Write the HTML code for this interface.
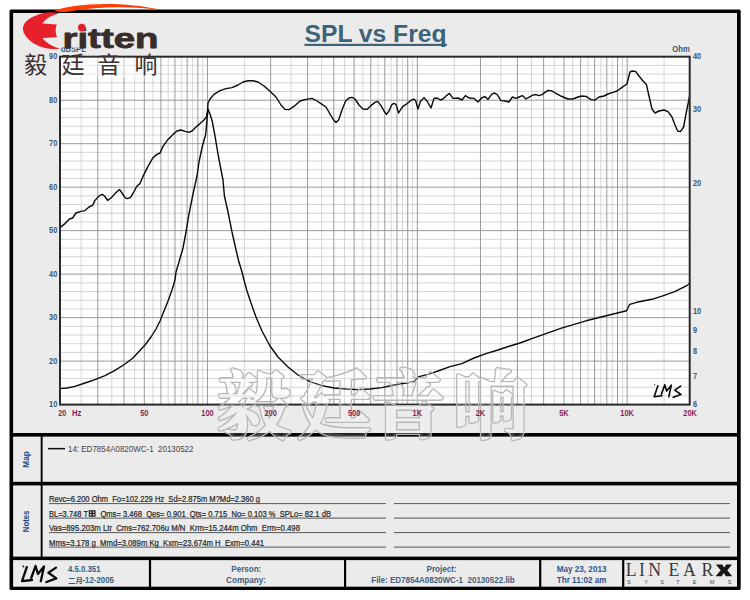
<!DOCTYPE html>
<html><head><meta charset="utf-8"><title>SPL vs Freq</title>
<style>html,body{margin:0;padding:0;background:#fff;}svg{display:block}</style></head>
<body><svg width="750" height="600" viewBox="0 0 750 600">
<rect x="0" y="0" width="750" height="600" fill="#fff"/>
<rect x="9.5" y="9.4" width="731.2" height="580.7" rx="1.5" fill="#000"/>
<rect x="13.1" y="13" width="723.9" height="573.7" fill="#ebebeb"/>
<rect x="60.3" y="56.7" width="629.4000000000001" height="347.90000000000003" fill="#fff"/>
<path d="M60.3 395.90H689.7M60.3 387.21H689.7M60.3 378.51H689.7M60.3 369.81H689.7M60.3 352.42H689.7M60.3 343.72H689.7M60.3 335.02H689.7M60.3 326.32H689.7M60.3 308.93H689.7M60.3 300.23H689.7M60.3 291.53H689.7M60.3 282.84H689.7M60.3 265.44H689.7M60.3 256.74H689.7M60.3 248.05H689.7M60.3 239.35H689.7M60.3 221.95H689.7M60.3 213.25H689.7M60.3 204.56H689.7M60.3 195.86H689.7M60.3 178.47H689.7M60.3 169.77H689.7M60.3 161.07H689.7M60.3 152.37H689.7M60.3 134.98H689.7M60.3 126.28H689.7M60.3 117.58H689.7M60.3 108.88H689.7M60.3 91.49H689.7M60.3 82.79H689.7M60.3 74.10H689.7M60.3 65.40H689.7" stroke="#d0d0d0" stroke-width="0.9" fill="none"/>
<path d="M81.13 56.7V404.6M111.80 56.7V404.6M134.70 56.7V404.6M152.99 56.7V404.6M168.21 56.7V404.6M181.25 56.7V404.6M192.66 56.7V404.6M202.79 56.7V404.6M244.42 56.7V404.6M290.97 56.7V404.6M321.63 56.7V404.6M344.53 56.7V404.6M362.82 56.7V404.6M378.04 56.7V404.6M391.08 56.7V404.6M402.49 56.7V404.6M412.63 56.7V404.6M454.25 56.7V404.6M500.80 56.7V404.6M531.46 56.7V404.6M554.37 56.7V404.6M572.65 56.7V404.6M587.88 56.7V404.6M600.92 56.7V404.6M612.32 56.7V404.6M622.46 56.7V404.6M664.08 56.7V404.6" stroke="#d0d0d0" stroke-width="0.9" fill="none"/>
<path d="M60.3 361.11H689.7M60.3 317.62H689.7M60.3 274.14H689.7M60.3 230.65H689.7M60.3 187.16H689.7M60.3 143.68H689.7M60.3 100.19H689.7M97.75 56.7V404.6M123.97 56.7V404.6M144.30 56.7V404.6M160.92 56.7V404.6M174.96 56.7V404.6M187.13 56.7V404.6M197.87 56.7V404.6M207.47 56.7V404.6M270.63 56.7V404.6M307.58 56.7V404.6M333.80 56.7V404.6M354.13 56.7V404.6M370.75 56.7V404.6M384.80 56.7V404.6M396.97 56.7V404.6M407.70 56.7V404.6M417.30 56.7V404.6M480.47 56.7V404.6M517.42 56.7V404.6M543.63 56.7V404.6M563.97 56.7V404.6M580.58 56.7V404.6M594.63 56.7V404.6M606.80 56.7V404.6M617.53 56.7V404.6M627.13 56.7V404.6" stroke="#9a9a9a" stroke-width="1" fill="none"/>
<path d="M60.0 388.6 L67.0 388.0 L75.0 386.4 L85.0 383.0 L95.0 379.6 L105.0 375.6 L115.0 370.4 L125.0 364.0 L133.0 358.0 L139.0 351.6 L145.0 345.0 L151.0 337.0 L156.0 329.0 L160.0 321.0 L164.0 311.0 L168.0 301.0 L172.0 290.0 L175.0 280.0 L176.0 272.0 L179.0 262.0 L183.0 248.0 L186.0 232.0 L189.0 214.0 L193.0 194.0 L197.0 176.0 L199.0 162.0 L202.4 146.0 L205.6 135.0 L207.0 120.0 L208.0 109.0 L210.0 114.0 L212.4 122.0 L215.0 136.0 L218.0 154.0 L221.0 170.0 L223.0 180.0 L224.4 196.0 L228.0 212.0 L232.0 232.0 L235.6 248.0 L238.4 260.0 L242.0 272.0 L244.0 280.0 L247.0 291.0 L251.0 303.0 L256.0 317.0 L262.0 331.0 L270.0 346.0 L278.0 357.0 L288.0 367.0 L298.0 375.0 L310.0 381.6 L322.0 385.6 L334.0 388.0 L346.0 389.0 L358.0 389.6 L370.0 389.0 L382.0 387.6 L394.0 385.0 L406.0 383.0 L414.0 381.6 L416.4 379.0 L419.0 376.6 L428.0 374.4 L438.0 371.0 L450.0 366.6 L462.0 363.6 L474.0 358.0 L486.0 353.6 L498.0 350.0 L510.0 346.0 L520.0 343.0 L535.3 337.3 L560.7 328.4 L586.0 320.8 L611.3 314.5 L626.5 310.7 L629.8 304.3 L636.7 302.3 L651.9 299.3 L662.0 296.2 L674.7 291.7 L687.3 285.3 L689.9 283.3" stroke="#0a0a0a" stroke-width="1.4" fill="none" stroke-linejoin="round" stroke-linecap="round"/>
<path d="M60.0 227.6 L65.0 223.6 L69.4 219.0 L72.6 218.0 L76.0 213.0 L81.0 211.4 L85.0 210.6 L89.0 207.0 L92.6 205.4 L95.0 200.4 L99.0 196.0 L102.0 194.4 L104.6 196.0 L107.6 200.4 L111.0 198.0 L115.0 193.6 L119.4 189.4 L122.0 193.0 L125.0 197.6 L127.4 198.6 L130.6 197.4 L134.0 191.6 L137.0 186.0 L140.0 183.6 L143.0 176.4 L148.0 166.4 L153.0 157.6 L157.0 154.4 L160.0 153.0 L163.0 146.4 L168.0 139.4 L173.0 134.4 L177.0 131.0 L181.0 130.0 L185.0 131.4 L189.0 132.4 L192.0 131.0 L196.0 127.0 L200.0 123.6 L204.0 120.0 L206.4 117.0 L207.6 110.0 L208.0 103.0 L210.0 99.0 L214.0 94.4 L220.0 90.6 L226.0 88.6 L232.0 87.6 L238.0 85.0 L243.0 82.0 L248.0 80.8 L253.0 80.8 L258.0 82.0 L264.0 86.0 L270.0 91.3 L276.0 97.0 L281.0 105.0 L285.0 109.4 L289.0 109.6 L294.0 106.4 L300.0 101.0 L306.0 99.4 L312.0 98.4 L317.0 101.0 L322.0 104.4 L326.0 107.0 L330.0 114.0 L333.6 120.0 L336.0 122.4 L338.6 120.0 L342.0 110.0 L345.6 101.0 L349.0 98.0 L352.0 97.4 L355.0 99.0 L359.0 105.0 L363.0 109.0 L367.0 109.4 L371.0 105.6 L375.0 102.4 L377.6 101.4 L381.0 105.6 L384.0 111.0 L386.4 114.4 L389.0 111.0 L391.6 105.0 L393.6 103.4 L396.0 104.4 L398.6 113.0 L401.0 109.0 L403.0 106.4 L407.0 103.6 L411.0 100.3 L413.6 99.2 L415.6 100.5 L418.0 109.0 L420.4 101.5 L424.0 97.6 L427.0 101.0 L431.0 108.0 L434.0 98.4 L437.0 98.0 L440.4 100.0 L443.0 99.0 L446.0 96.0 L449.4 93.4 L453.0 98.4 L458.0 98.0 L462.0 100.0 L465.4 95.6 L469.0 98.0 L474.0 98.4 L478.0 102.0 L481.6 98.0 L485.0 96.4 L488.0 99.4 L491.6 94.4 L494.0 93.0 L497.0 94.4 L501.0 100.6 L505.0 101.0 L509.0 102.0 L512.4 97.0 L516.0 98.4 L519.0 97.0 L522.4 95.6 L526.0 99.0 L530.0 96.6 L533.0 95.0 L536.0 94.6 L539.0 95.6 L542.0 94.6 L545.0 92.4 L548.0 90.4 L552.0 91.0 L556.0 93.4 L560.0 95.6 L563.0 97.0 L568.0 99.0 L573.0 99.0 L578.0 97.0 L582.0 96.0 L586.0 96.4 L591.0 99.6 L595.0 100.0 L599.0 97.0 L604.0 96.0 L608.0 94.0 L613.0 92.4 L617.0 91.0 L622.0 87.4 L627.0 84.0 L628.4 78.0 L630.0 72.0 L632.0 71.0 L635.6 71.4 L639.0 76.0 L643.0 81.0 L646.4 84.4 L649.0 96.0 L652.0 109.0 L655.0 113.0 L659.0 111.0 L664.0 110.0 L668.0 111.6 L672.0 117.0 L675.0 125.0 L677.6 131.0 L680.4 131.6 L683.6 127.0 L686.0 114.0 L688.0 104.0 L689.6 96.0" stroke="#0a0a0a" stroke-width="1.4" fill="none" stroke-linejoin="round" stroke-linecap="round"/>
<rect x="60.0" y="56.7" width="629.7" height="347.90000000000003" fill="none" stroke="#2a2a2a" stroke-width="2"/>
<rect x="13" y="433" width="725" height="3.6" fill="#000"/>
<rect x="13" y="481.8" width="725" height="3.6" fill="#000"/>
<rect x="13" y="556.6" width="725" height="3.5" fill="#000"/>
<rect x="40.7" y="436" width="1.9" height="121" fill="#000"/>
<rect x="148.9" y="560" width="2.2" height="27" fill="#000"/>
<rect x="344" y="560" width="2.2" height="27" fill="#000"/>
<rect x="539.1" y="560" width="2.2" height="27" fill="#000"/>
<rect x="622.1" y="560" width="2.2" height="27" fill="#000"/>
<defs><mask id="wmm" maskUnits="userSpaceOnUse" x="200" y="360" width="340" height="95"><rect x="200" y="360" width="340" height="95" fill="#fff"/><text x="216.7 297.4 371 453.5" y="432" font-size="74" font-family="&quot;Liberation Serif&quot;, &quot;Noto Serif CJK SC&quot;, serif" font-weight="bold" fill="#000" stroke="#000" stroke-width="1.2" stroke-linejoin="round">毅廷音响</text></mask></defs>
<g fill="rgba(255,255,255,0.14)" stroke="rgba(255,255,255,0.14)" stroke-linejoin="round"><text x="216.7 297.4 371 453.5" y="432" font-size="74" font-family="&quot;Liberation Serif&quot;, &quot;Noto Serif CJK SC&quot;, serif" font-weight="bold" stroke-width="3.8">毅廷音响</text></g>
<g fill="#b8b8b8" stroke="#b8b8b8" stroke-linejoin="round" mask="url(#wmm)"><text x="216.7 297.4 371 453.5" y="432" font-size="74" font-family="&quot;Liberation Serif&quot;, &quot;Noto Serif CJK SC&quot;, serif" font-weight="bold" stroke-width="3.8">毅廷音响</text></g>
<text x="57.3" y="407.20000000000005" font-size="8.6" fill="#3b5878" font-family="Liberation Sans, sans-serif" font-weight="bold" text-anchor="end" textLength="8.2" lengthAdjust="spacingAndGlyphs" >10</text>
<text x="57.3" y="363.71250000000003" font-size="8.6" fill="#3b5878" font-family="Liberation Sans, sans-serif" font-weight="bold" text-anchor="end" textLength="8.2" lengthAdjust="spacingAndGlyphs" >20</text>
<text x="57.3" y="320.225" font-size="8.6" fill="#3b5878" font-family="Liberation Sans, sans-serif" font-weight="bold" text-anchor="end" textLength="8.2" lengthAdjust="spacingAndGlyphs" >30</text>
<text x="57.3" y="276.73750000000007" font-size="8.6" fill="#3b5878" font-family="Liberation Sans, sans-serif" font-weight="bold" text-anchor="end" textLength="8.2" lengthAdjust="spacingAndGlyphs" >40</text>
<text x="57.3" y="233.25" font-size="8.6" fill="#3b5878" font-family="Liberation Sans, sans-serif" font-weight="bold" text-anchor="end" textLength="8.2" lengthAdjust="spacingAndGlyphs" >50</text>
<text x="57.3" y="189.7625" font-size="8.6" fill="#3b5878" font-family="Liberation Sans, sans-serif" font-weight="bold" text-anchor="end" textLength="8.2" lengthAdjust="spacingAndGlyphs" >60</text>
<text x="57.3" y="146.275" font-size="8.6" fill="#3b5878" font-family="Liberation Sans, sans-serif" font-weight="bold" text-anchor="end" textLength="8.2" lengthAdjust="spacingAndGlyphs" >70</text>
<text x="57.3" y="102.7875" font-size="8.6" fill="#3b5878" font-family="Liberation Sans, sans-serif" font-weight="bold" text-anchor="end" textLength="8.2" lengthAdjust="spacingAndGlyphs" >80</text>
<text x="57.3" y="59.29999999999999" font-size="8.6" fill="#3b5878" font-family="Liberation Sans, sans-serif" font-weight="bold" text-anchor="end" textLength="8.2" lengthAdjust="spacingAndGlyphs" >90</text>
<text x="693" y="59.300000000000004" font-size="8.6" fill="#3b5878" font-family="Liberation Sans, sans-serif" font-weight="bold" textLength="8.2" lengthAdjust="spacingAndGlyphs" >40</text>
<text x="693" y="112.05606909596443" font-size="8.6" fill="#3b5878" font-family="Liberation Sans, sans-serif" font-weight="bold" textLength="8.2" lengthAdjust="spacingAndGlyphs" >30</text>
<text x="693" y="186.41157229800137" font-size="8.6" fill="#3b5878" font-family="Liberation Sans, sans-serif" font-weight="bold" textLength="8.2" lengthAdjust="spacingAndGlyphs" >20</text>
<text x="693" y="313.5231445960028" font-size="8.6" fill="#3b5878" font-family="Liberation Sans, sans-serif" font-weight="bold" textLength="8.2" lengthAdjust="spacingAndGlyphs" >10</text>
<text x="693" y="332.84449679796313" font-size="8.6" fill="#3b5878" font-family="Liberation Sans, sans-serif" font-weight="bold" textLength="4.1" lengthAdjust="spacingAndGlyphs" >9</text>
<text x="693" y="354.4439309040356" font-size="8.6" fill="#3b5878" font-family="Liberation Sans, sans-serif" font-weight="bold" textLength="4.1" lengthAdjust="spacingAndGlyphs" >8</text>
<text x="693" y="378.93134965676455" font-size="8.6" fill="#3b5878" font-family="Liberation Sans, sans-serif" font-weight="bold" textLength="4.1" lengthAdjust="spacingAndGlyphs" >7</text>
<text x="693" y="407.20000000000005" font-size="8.6" fill="#3b5878" font-family="Liberation Sans, sans-serif" font-weight="bold" textLength="4.1" lengthAdjust="spacingAndGlyphs" >6</text>
<text x="60.8" y="51.6" font-size="8.6" fill="#3b5878" font-family="Liberation Sans, sans-serif" font-weight="bold" textLength="25" lengthAdjust="spacingAndGlyphs" >dBSPL</text>
<rect x="60" y="42" width="30" height="5.4" fill="#ebebeb"/>
<text x="689.8" y="52" font-size="8.6" fill="#3b5878" font-family="Liberation Sans, sans-serif" font-weight="bold" text-anchor="end" textLength="17.5" lengthAdjust="spacingAndGlyphs" >Ohm</text>
<text x="58.3" y="415.6" font-size="8.6" fill="#8a2552" font-family="Liberation Sans, sans-serif" font-weight="bold" textLength="8" lengthAdjust="spacingAndGlyphs" >20</text>
<text x="72" y="415.6" font-size="8.6" fill="#8a2552" font-family="Liberation Sans, sans-serif" font-weight="bold" textLength="9.4" lengthAdjust="spacingAndGlyphs" >Hz</text>
<text x="144.30107848634924" y="415.6" font-size="8.6" fill="#8a2552" font-family="Liberation Sans, sans-serif" font-weight="bold" text-anchor="middle" textLength="8.2" lengthAdjust="spacingAndGlyphs" >50</text>
<text x="207.4672059098413" y="415.6" font-size="8.6" fill="#8a2552" font-family="Liberation Sans, sans-serif" font-weight="bold" text-anchor="middle" textLength="12.3" lengthAdjust="spacingAndGlyphs" >100</text>
<text x="270.6333333333333" y="415.6" font-size="8.6" fill="#8a2552" font-family="Liberation Sans, sans-serif" font-weight="bold" text-anchor="middle" textLength="12.3" lengthAdjust="spacingAndGlyphs" >200</text>
<text x="354.1344118196826" y="415.6" font-size="8.6" fill="#8a2552" font-family="Liberation Sans, sans-serif" font-weight="bold" text-anchor="middle" textLength="12.3" lengthAdjust="spacingAndGlyphs" >500</text>
<text x="417.3005392431746" y="415.6" font-size="8.6" fill="#8a2552" font-family="Liberation Sans, sans-serif" font-weight="bold" text-anchor="middle" textLength="9.5" lengthAdjust="spacingAndGlyphs" >1K</text>
<text x="480.4666666666667" y="415.6" font-size="8.6" fill="#8a2552" font-family="Liberation Sans, sans-serif" font-weight="bold" text-anchor="middle" textLength="9.5" lengthAdjust="spacingAndGlyphs" >2K</text>
<text x="563.9677451530159" y="415.6" font-size="8.6" fill="#8a2552" font-family="Liberation Sans, sans-serif" font-weight="bold" text-anchor="middle" textLength="9.5" lengthAdjust="spacingAndGlyphs" >5K</text>
<text x="627.1338725765079" y="415.6" font-size="8.6" fill="#8a2552" font-family="Liberation Sans, sans-serif" font-weight="bold" text-anchor="middle" textLength="13.6" lengthAdjust="spacingAndGlyphs" >10K</text>
<text x="690.0999999999999" y="415.6" font-size="8.6" fill="#8a2552" font-family="Liberation Sans, sans-serif" font-weight="bold" text-anchor="middle" textLength="13.6" lengthAdjust="spacingAndGlyphs" >20K</text>
<text x="375.5" y="41.6" font-size="23.5" fill="#3d6378" font-family="Liberation Sans, sans-serif" font-weight="bold" text-anchor="middle" textLength="142" lengthAdjust="spacingAndGlyphs" >SPL vs Freq</text>
<rect x="304.5" y="43.8" width="142.3" height="2.2" fill="#3d6378"/>
<text transform="translate(28.9,459.4) rotate(-90)" font-size="8.6" fill="#1d4a8a" font-family="Liberation Sans, sans-serif" font-weight="bold" text-anchor="middle" textLength="16.6" lengthAdjust="spacingAndGlyphs">Map</text>
<text transform="translate(28.9,521.4) rotate(-90)" font-size="8.6" fill="#1d4a8a" font-family="Liberation Sans, sans-serif" font-weight="bold" text-anchor="middle" textLength="21.6" lengthAdjust="spacingAndGlyphs">Notes</text>
<rect x="48" y="447.9" width="17" height="1.5" fill="#111"/>
<text x="68" y="451.8" font-size="9" fill="#4a4048" font-family="Liberation Sans, sans-serif" textLength="125.5" lengthAdjust="spacingAndGlyphs" xml:space="preserve">14: ED7854A0820WC-1  20130522</text>
<text x="49" y="502" font-size="8.5" fill="#262626" font-family="Liberation Sans, sans-serif" textLength="211" lengthAdjust="spacingAndGlyphs" xml:space="preserve" stroke="#262626" stroke-width="0.22">Revc=6.200 Ohm  Fo=102.229 Hz  Sd=2.875m M?Md=2.360 g</text>
<path d="M49 503.6H386M394 503.6H730" stroke="#555" stroke-width="1" fill="none"/>
<text x="49" y="516.5" font-size="8.5" fill="#262626" font-family="Liberation Sans, sans-serif" textLength="39" lengthAdjust="spacingAndGlyphs" xml:space="preserve" stroke="#262626" stroke-width="0.22">BL=3.748 T</text>
<path d="M88.8 510.2h6.8v6.6h-6.8zM90 511.5v1.2h1.6v-1.2zM93 511.5v1.2h1.4v-1.2zM90 514.1v1.4h1.4v-1.4zM93 514.1v1.4h1.4v-1.4z" fill="#222" fill-rule="evenodd"/>
<text x="100.4" y="516.5" font-size="8.5" fill="#262626" font-family="Liberation Sans, sans-serif" textLength="230.6" lengthAdjust="spacingAndGlyphs" xml:space="preserve" stroke="#262626" stroke-width="0.22">Qms= 3.468  Qes= 0.901  Qts= 0.715  No= 0.103 %  SPLo= 82.1 dB</text>
<path d="M49 518.1H386M394 518.1H730" stroke="#555" stroke-width="1" fill="none"/>
<text x="49" y="531" font-size="8.5" fill="#262626" font-family="Liberation Sans, sans-serif" textLength="251" lengthAdjust="spacingAndGlyphs" xml:space="preserve" stroke="#262626" stroke-width="0.22">Vas=895.203m Ltr  Cms=762.706u M/N  Krm=15.244m Ohm  Erm=0.498</text>
<path d="M49 532.6H386M394 532.6H730" stroke="#555" stroke-width="1" fill="none"/>
<text x="49" y="545.5" font-size="8.5" fill="#262626" font-family="Liberation Sans, sans-serif" textLength="215" lengthAdjust="spacingAndGlyphs" xml:space="preserve" stroke="#262626" stroke-width="0.22">Mms=3.178 g  Mmd=3.089m Kg  Kxm=23.674m H  Exm=0.441</text>
<path d="M49 547.1H386M394 547.1H730" stroke="#555" stroke-width="1" fill="none"/>
<text x="68" y="571.8" font-size="9" fill="#33607f" font-family="Liberation Sans, sans-serif" font-weight="bold" textLength="32.5" lengthAdjust="spacingAndGlyphs" >4.5.0.351</text>
<text x="82.5" y="583.2" font-size="9" fill="#33607f" font-family="Liberation Sans, sans-serif" font-weight="bold" textLength="31.5" lengthAdjust="spacingAndGlyphs" >-12-2005</text>
<text x="246.3" y="571.9" font-size="9.2" fill="#3f5f80" font-family="Liberation Sans, sans-serif" font-weight="bold" text-anchor="middle" textLength="30" lengthAdjust="spacingAndGlyphs" >Person:</text>
<text x="246" y="583.3" font-size="9.2" fill="#3f5f80" font-family="Liberation Sans, sans-serif" font-weight="bold" text-anchor="middle" textLength="40" lengthAdjust="spacingAndGlyphs" >Company:</text>
<text x="441.6" y="571.9" font-size="9.2" fill="#3f5f80" font-family="Liberation Sans, sans-serif" font-weight="bold" text-anchor="middle" textLength="30.2" lengthAdjust="spacingAndGlyphs" >Project:</text>
<text x="443" y="583.3" font-size="9.2" fill="#3f5f80" font-family="Liberation Sans, sans-serif" font-weight="bold" text-anchor="middle" textLength="143.5" lengthAdjust="spacingAndGlyphs" xml:space="preserve">File: ED7854A0820WC-1  20130522.lib</text>
<text x="581.6" y="572.2" font-size="9.2" fill="#2f5590" font-family="Liberation Sans, sans-serif" font-weight="bold" text-anchor="middle" textLength="49.7" lengthAdjust="spacingAndGlyphs" >May 23, 2013</text>
<text x="581.6" y="583.2" font-size="9.2" fill="#2f5590" font-family="Liberation Sans, sans-serif" font-weight="bold" text-anchor="middle" textLength="49.7" lengthAdjust="spacingAndGlyphs" >Thr 11:02 am</text>
<path d="M54 11 C70 3.7 120 0.2 163 10.3 C130 5.5 95 6.5 66 12 Q58 12.2 54 11Z" fill="#ff3d06"/>
<path d="M58.8 13.3 C52 12 48 12.2 44 13 C33 15.5 23 21 22.9 28.3 C23 36.5 33 46 48 48.6 C52 49.3 56 49.2 60 48.8 C52 46.5 46 42.5 42.3 38 L57 37.2 C55.2 33 55.2 28.5 56.8 24.5 L42.3 23.6 C45.5 19 51 15.5 58.8 13.3Z" fill="#e6212c"/>
<text x="62.5" y="48" font-size="28" fill="#392d2b" stroke="#392d2b" stroke-width="0.8" stroke-linejoin="round" font-family="&quot;Liberation Sans&quot;, sans-serif" font-weight="bold" textLength="96" lengthAdjust="spacingAndGlyphs">ritten</text>
<circle cx="81.8" cy="27.6" r="3.85" fill="#e6212c"/>
<rect x="61.2" y="57.8" width="99" height="20" fill="#fff" opacity="0.45"/>
<text x="24.3 61.6 97.5 134.4" y="72.8" font-size="23" fill="#3a3030" font-family="&quot;Liberation Sans&quot;, &quot;Noto Sans CJK SC&quot;, sans-serif">毅廷音响</text>
<path d="M26.8 567.2L22 581.2L32 580M31.2 578L35.6 566L38 574L44 566.4L40.8 581.2M56 567.6L48.4 572.8L56.4 578.4L46.4 582" fill="none" stroke="#0a0a0a" stroke-width="2.3" stroke-linecap="round" stroke-linejoin="round"/>
<circle cx="23.4" cy="566.4" r="0.9" fill="#0a0a0a"/>
<g transform="translate(637.00 -56.62) scale(0.78)"><path d="M26.8 567.2L22 581.2L32 580M31.2 578L35.6 566L38 574L44 566.4L40.8 581.2M56 567.6L48.4 572.8L56.4 578.4L46.4 582" fill="none" stroke="#0a0a0a" stroke-width="2.1" stroke-linecap="round" stroke-linejoin="round"/><circle cx="22.5" cy="566" r="0.9" fill="#0a0a0a"/></g>
<text x="67.9 75.5" y="582.8" font-size="7.4" fill="#33607f" font-family="&quot;Liberation Sans&quot;, &quot;Noto Sans CJK SC&quot;, sans-serif" font-weight="bold">二月</text>
<text x="631.3" y="576" font-size="17.8" fill="#3a3a3a" font-family="Liberation Serif, serif" text-anchor="middle">L</text>
<text x="642" y="576" font-size="17.8" fill="#3a3a3a" font-family="Liberation Serif, serif" text-anchor="middle">I</text>
<text x="654.6" y="576" font-size="17.8" fill="#3a3a3a" font-family="Liberation Serif, serif" text-anchor="middle">N</text>
<text x="674" y="576" font-size="17.8" fill="#3a3a3a" font-family="Liberation Serif, serif" text-anchor="middle">E</text>
<text x="689.5" y="576" font-size="17.8" fill="#3a3a3a" font-family="Liberation Serif, serif" text-anchor="middle">A</text>
<text x="707.5" y="576" font-size="17.8" fill="#3a3a3a" font-family="Liberation Serif, serif" text-anchor="middle">R</text>
<path d="M715.8 564.4h6.4l2 3 2-3h5.8l-4.7 5.8 4.9 6h-6.4l-2-3.2-2.1 3.2h-6.1l5.1-6z" fill="#151515"/>
<text x="628.9" y="583.6" font-size="5.6" fill="#3a4a66" font-family="Liberation Sans, sans-serif" text-anchor="middle">S</text>
<text x="646" y="583.6" font-size="5.6" fill="#3a4a66" font-family="Liberation Sans, sans-serif" text-anchor="middle">Y</text>
<text x="662" y="583.6" font-size="5.6" fill="#3a4a66" font-family="Liberation Sans, sans-serif" text-anchor="middle">S</text>
<text x="678" y="583.6" font-size="5.6" fill="#3a4a66" font-family="Liberation Sans, sans-serif" text-anchor="middle">T</text>
<text x="694.5" y="583.6" font-size="5.6" fill="#3a4a66" font-family="Liberation Sans, sans-serif" text-anchor="middle">E</text>
<text x="712" y="583.6" font-size="5.6" fill="#3a4a66" font-family="Liberation Sans, sans-serif" text-anchor="middle">M</text>
<text x="729.5" y="583.6" font-size="5.6" fill="#3a4a66" font-family="Liberation Sans, sans-serif" text-anchor="middle">S</text>
</svg></body></html>
